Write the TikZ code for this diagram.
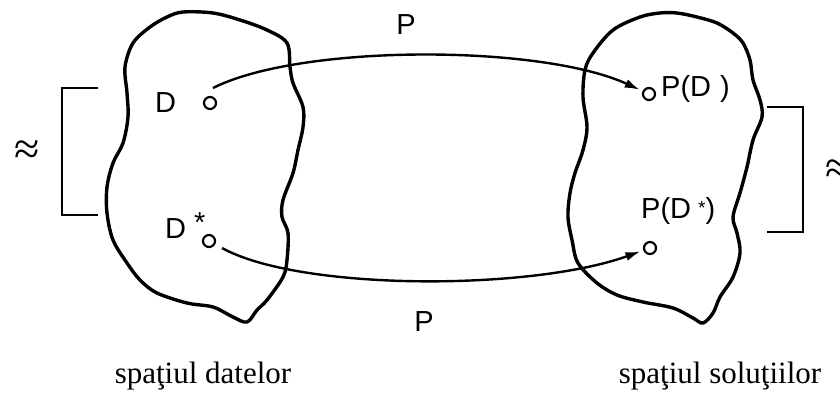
\documentclass[tikz,border=0pt]{standalone}
\usepackage{fontspec}
\setmainfont{Liberation Serif}
\newfontfamily\sansf{Liberation Sans}
\usetikzlibrary{arrows.meta}
\begin{document}
\begin{tikzpicture}[x=1pt,y=-1pt,
  blob/.style={line width=3.4pt,line join=round},
  pt/.style={circle,draw,line width=2.2pt,inner sep=0pt,minimum size=12pt},
  arr/.style={line width=2.4pt,-{Latex[length=15pt,width=9pt]}},
  brk/.style={line width=1.4pt},
  lab/.style={inner sep=0pt,font=\sansf\fontsize{29}{29}\selectfont},
  captxt/.style={inner sep=0pt,font=\fontsize{31}{31}\selectfont},
  apx/.style={inner sep=0pt,font=\fontsize{46}{46}\selectfont}]
\useasboundingbox (0,0) rectangle (840,392);
% left blob
\draw[blob] plot[smooth cycle,tension=0.55] coordinates{
(183,12)(213,13)(240,20)(267,30)(287,43)(290,67)(293,83)(303,107)(303,127)(298,150)
(293,173)(283,200)(282,217)(288,233)(287,260)(283,277)(267,300)(257,310)(247,322)
(233,317)(213,307)(187,303)(157,293)(140,280)(127,263)(113,240)(107,213)(107,187)
(113,163)(123,143)(128,117)(127,93)(125,67)(133,43)(150,27)(167,17)};
% right blob
\draw[blob] plot[smooth cycle,tension=0.55] coordinates{
(640,17)(660,13)(677,13)(697,17)(717,23)(733,33)(743,43)(750,60)(753,80)(760,100)
(762,117)(753,140)(747,167)(740,193)(733,217)(737,233)(740,253)(733,277)(720,297)
(713,313)(703,323)(693,318)(673,308)(643,302)(617,295)(597,283)(578,263)(572,240)
(568,217)(570,193)(575,173)(583,150)(587,127)(583,97)(585,70)(593,53)(613,30)};
% points
\node[pt] (d) at (210,103) {};
\node[pt] (ds) at (209,241) {};
\node[pt] (pd) at (649,94) {};
\node[pt] (pds) at (650,248) {};
\coordinate (d1) at (213,88);
\coordinate (ds1) at (222,248);
% labels
\node[lab,anchor=base west] (ld) at (155,112) {D};
\node[lab,anchor=base west] (lds) at (165,238) {D\hspace{8pt}\raisebox{6pt}{*}};
\node[lab,anchor=base west] (lpd) at (661,96) {P(D\hspace{9pt})};
\node[lab,anchor=base west] (lpds) at (641,218) {P(D\hspace{7pt}\raisebox{4pt}{\fontsize{19}{19}\selectfont *})};
\node[lab] (p1) at (406,25) {P};
\node[lab] (p2) at (424,322) {P};
% arrows
\draw[arr,shorten >=3pt] (d1) .. controls (300,44) and (540,44) .. (pd);
\draw[arr,shorten >=3pt] (ds1) .. controls (300,291) and (530,291) .. (pds);
% brackets
\coordinate (b1) at (98,88);
\coordinate (b2) at (98,215);
\draw[brk] (b1) -| (62,215) -- (b2);
\coordinate (b3) at (767,107);
\coordinate (b4) at (767,232);
\draw[brk] (b3) -| (803,232) -- (b4);
\node[apx] (a1) at (27,153) {≈};
\node[apx] (a2) at (838,172) {≈};
% captions
\node[captxt,anchor=base] (c1) at (203,383) {spaţiul datelor};
\node[captxt,anchor=base] (c2) at (720,383) {spaţiul soluţiilor};
\end{tikzpicture}
\end{document}
